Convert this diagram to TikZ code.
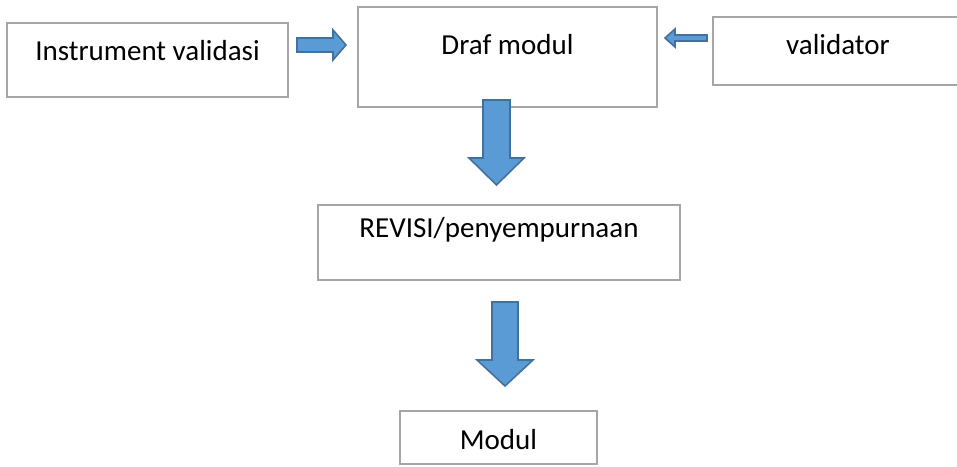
\documentclass[tikz,border=0pt]{standalone}
\usepackage{fontspec}
\setmainfont{Carlito}
\definecolor{boxgray}{RGB}{166,166,166}
\definecolor{arrowblue}{RGB}{91,155,213}
\definecolor{arrowedge}{RGB}{65,113,156}
\begin{document}
\begin{tikzpicture}[
        box/.style = {draw=boxgray, line width=1.2pt, inner sep=0pt, font=\fontsize{16.5}{20}\selectfont},
        blockarrow/.style = {fill=arrowblue, draw=arrowedge, line width=0.9pt, line join=miter},
    ]
        \useasboundingbox (0,0) rectangle (19.14,9.32);
        \node[box, minimum width=5.62cm, minimum height=1.48cm, text height=0.76cm, text depth=0.72cm] (instrumen) at (2.95,8.12) {Instrument validasi};
        \node[box, minimum width=5.98cm, minimum height=2cm, text height=0.96cm, text depth=1.04cm] (draf) at (10.15,8.18) {Draf modul};
        \node[box, minimum width=5cm, minimum height=1.36cm, text height=0.76cm, text depth=0.6cm] (validator) at (16.76,8.30) {validator};
        \node[box, minimum width=7.24cm, minimum height=1.5cm, text height=0.64cm, text depth=0.86cm] (revisi) at (9.98,4.47) {REVISI/penyempurnaan};
        \node[box, minimum width=3.94cm, minimum height=1.06cm, text height=0.76cm, text depth=0.3cm] (modul) at (9.97,0.57) {Modul};
        % block arrows
        \draw[blockarrow] (5.94,8.28) -- ++(0.72,0) -- ++(0,-0.16) -- ++(0.26,0.30) -- ++(-0.26,0.30) -- ++(0,-0.16) -- ++(-0.72,0) -- cycle;
        \draw[blockarrow] (14.14,8.62) -- ++(-0.64,0) -- ++(0,0.12) -- ++(-0.20,-0.18) -- ++(0.20,-0.18) -- ++(0,0.12) -- ++(0.64,0) -- cycle;
        \draw[blockarrow] (9.66,7.32) -- ++(0,-1.16) -- ++(-0.28,0) -- ++(0.55,-0.54) -- ++(0.55,0.54) -- ++(-0.28,0) -- ++(0,1.16) -- cycle;
        \draw[blockarrow] (9.84,3.28) -- ++(0,-1.16) -- ++(-0.30,0) -- ++(0.56,-0.52) -- ++(0.56,0.52) -- ++(-0.30,0) -- ++(0,1.16) -- cycle;
\end{tikzpicture}
\end{document}
